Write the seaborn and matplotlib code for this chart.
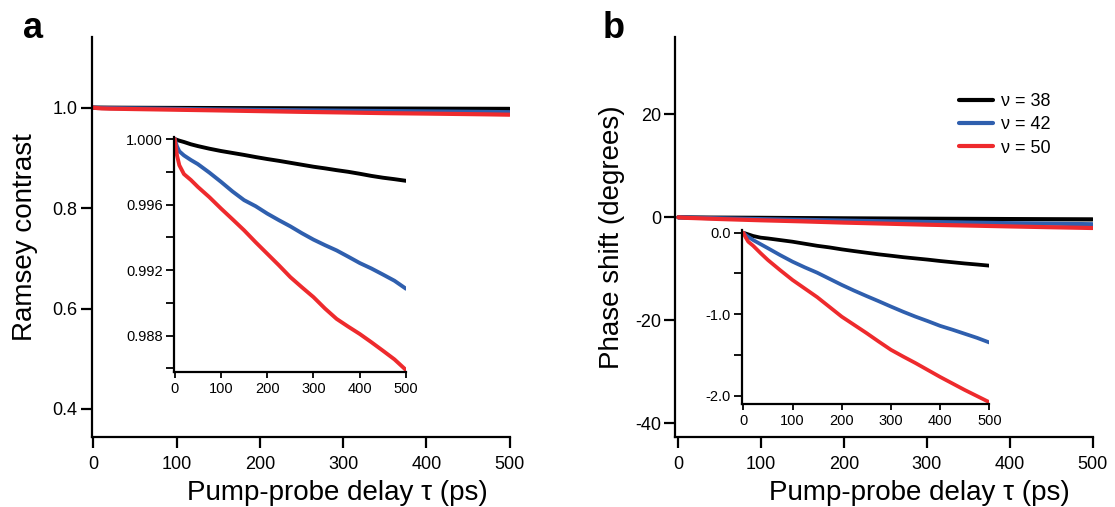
import numpy as np
import pandas as pd
import matplotlib
matplotlib.use("Agg")
import matplotlib.pyplot as plt
from matplotlib.lines import Line2D
import seaborn as sns

# ---------------- data ----------------
delay_ps = [0, 5, 10, 20, 35, 50, 75, 100, 125, 150, 175, 200, 225, 250,
            275, 300, 325, 350, 375, 400, 425, 450, 475, 500]

series_labels = ["ν = 38", "ν = 42", "ν = 50"]

contrast_v38 = [1.00000, 0.99995, 0.99990, 0.99982, 0.99968, 0.99957, 0.99941,
                0.99927, 0.99915, 0.99903, 0.99890, 0.99878, 0.99867, 0.99855,
                0.99843, 0.99831, 0.99821, 0.99810, 0.99800, 0.99788, 0.99775,
                0.99764, 0.99755, 0.99745]
contrast_v42 = [1.00000, 0.99955, 0.99925, 0.99900, 0.99872, 0.99847, 0.99795,
                0.99739, 0.99680, 0.99627, 0.99590, 0.99545, 0.99505, 0.99467,
                0.99425, 0.99386, 0.99352, 0.99320, 0.99282, 0.99243, 0.99210,
                0.99173, 0.99135, 0.99086]
contrast_v50 = [1.00000, 0.99900, 0.99840, 0.99786, 0.99750, 0.99708, 0.99645,
                0.99576, 0.99510, 0.99443, 0.99370, 0.99300, 0.99230, 0.99157,
                0.99095, 0.99035, 0.98965, 0.98902, 0.98855, 0.98810, 0.98760,
                0.98708, 0.98655, 0.98590]

phase_v38 = [0.0, -0.01, -0.02, -0.04, -0.06, -0.07, -0.09, -0.11, -0.135,
             -0.16, -0.18, -0.204, -0.225, -0.245, -0.265, -0.282, -0.30,
             -0.315, -0.33, -0.347, -0.362, -0.377, -0.39, -0.404]
phase_v42 = [0.0, -0.03, -0.05, -0.09, -0.14, -0.19, -0.275, -0.355, -0.425,
             -0.49, -0.565, -0.64, -0.71, -0.776, -0.84, -0.906, -0.97, -1.03,
             -1.085, -1.143, -1.19, -1.24, -1.29, -1.347]
phase_v50 = [0.0, -0.06, -0.11, -0.16, -0.25, -0.335, -0.46, -0.58, -0.685,
             -0.79, -0.91, -1.03, -1.13, -1.23, -1.335, -1.437, -1.52, -1.60,
             -1.685, -1.77, -1.85, -1.93, -2.005, -2.08]

main_x_ticks = [0, 100, 200, 300, 400, 500]
contrast_y_ticks = [0.4, 0.6, 0.8, 1.0]
phase_y_ticks = [-40, -20, 0, 20]
inset_a_major = [0.988, 0.992, 0.996, 1.000]
inset_a_minor = [0.986, 0.990, 0.994, 0.998]
inset_b_major = [-2.0, -1.0, 0.0]
inset_b_minor = [-1.5, -0.5]

colors = ["#000000", "#2f5fae", "#ee2a2d"]
palette = dict(zip(series_labels, colors))

def long_frame(values_list, name):
    frames = []
    for lab, vals in zip(series_labels, values_list):
        frames.append(pd.DataFrame({"delay": delay_ps, name: vals, "series": lab}))
    return pd.concat(frames, ignore_index=True)

df_contrast = long_frame([contrast_v38, contrast_v42, contrast_v50], "contrast")
df_phase = long_frame([phase_v38, phase_v42, phase_v50], "phase")

# ---------------- style ----------------
sns.set_theme(style="ticks")
plt.rcParams["font.family"] = ["Liberation Sans", "DejaVu Sans"]
plt.rcParams["axes.unicode_minus"] = False
for k in ["text.color", "axes.labelcolor", "xtick.color", "ytick.color", "axes.edgecolor"]:
    plt.rcParams[k] = "black"

W, H = 1115, 507
fig = plt.figure(figsize=(W / 100, H / 100), dpi=100)

def px_axes(left, right, top, bottom):
    return fig.add_axes([left / W, 1 - bottom / H, (right - left) / W, (bottom - top) / H])

axA = px_axes(91.5, 509.5, 37.3, 436.7)
axB = px_axes(675.3, 1092.5, 37.3, 436.7)
insA = px_axes(174.0, 406.0, 137.4, 372.3)
insB = px_axes(741.7, 989.3, 230.3, 404.3)

# main panels
sns.lineplot(data=df_contrast, x="delay", y="contrast", hue="series", hue_order=series_labels,
             palette=palette, ax=axA, linewidth=3.0, legend=False)
sns.lineplot(data=df_phase, x="delay", y="phase", hue="series", hue_order=series_labels,
             palette=palette, ax=axB, linewidth=3.0, legend=False)
# insets
sns.lineplot(data=df_contrast, x="delay", y="contrast", hue="series", hue_order=series_labels,
             palette=palette, ax=insA, linewidth=2.8, legend=False)
sns.lineplot(data=df_phase, x="delay", y="phase", hue="series", hue_order=series_labels,
             palette=palette, ax=insB, linewidth=2.7, legend=False)

for ax in [axA, axB, insA, insB]:
    sns.despine(ax=ax)
    ax.set_facecolor("none")
    for s in ["left", "bottom"]:
        ax.spines[s].set_linewidth(1.6)

# main axes settings
axA.set_xlim(-2.2, 500)
axA.set_ylim(0.3448, 1.140)
axA.set_xticks(main_x_ticks)
axA.set_yticks(contrast_y_ticks)
axA.set_yticklabels([f"{v:.1f}" for v in contrast_y_ticks])

axB.set_xlim(-3.6, 500)
axB.set_ylim(-42.6, 34.95)
axB.set_xticks(main_x_ticks)
axB.set_yticks(phase_y_ticks)

for ax in [axA, axB]:
    ax.tick_params(axis="both", direction="out", length=8, width=1.6, labelsize=13)
    ax.tick_params(axis="x", pad=6)
    ax.tick_params(axis="y", pad=2)
    ax.set_xlabel("Pump-probe delay τ (ps)", fontsize=20)

axA.set_ylabel("Ramsey contrast", fontsize=20)
axB.set_ylabel("Phase shift (degrees)", fontsize=20)
axA.xaxis.set_label_coords(0.5885, -0.108)
axB.xaxis.set_label_coords(0.584, -0.108)
axA.yaxis.set_label_coords(-0.128, 0.5)
axB.yaxis.set_label_coords(-0.12, 0.5)

# inset settings
insA.set_xlim(-1.5, 500)
insA.set_ylim(0.98576, 1.0001)
insA.set_yticks(inset_a_major)
insA.set_yticks(inset_a_minor, minor=True)
insA.set_yticklabels([f"{v:.3f}" for v in inset_a_major])

insB.set_xlim(-3.3, 500)
insB.set_ylim(-2.106, 0.03)
insB.set_yticks(inset_b_major)
insB.set_yticks(inset_b_minor, minor=True)
insB.set_yticklabels([f"{v:.1f}" for v in inset_b_major])

for ax in [insA, insB]:
    ax.set_xticks(main_x_ticks)
    ax.set_xlabel("")
    ax.set_ylabel("")
    ax.tick_params(axis="y", which="both", direction="out", length=6, width=1.3, labelsize=10.5, pad=2)
    ax.tick_params(axis="x", direction="out", length=4.5, width=1.3, labelsize=10.5, pad=2.5)

# legend
handles = [Line2D([], [], color=c, linewidth=3.0) for c in colors]
axB.legend(handles, series_labels, loc="upper left", bbox_to_anchor=(959 / W, 1 - 93 / H),
           bbox_transform=fig.transFigure, frameon=False, fontsize=13,
           handlelength=1.9, handletextpad=0.4, labelspacing=0.35,
           borderpad=0, borderaxespad=0)

# panel letters
fig.text(33 / W, 1 - 38 / H, "a", ha="center", va="baseline", fontsize=26, fontweight="bold")
fig.text(614 / W, 1 - 38 / H, "b", ha="center", va="baseline", fontsize=26, fontweight="bold")

fig.savefig("out.png", dpi=100)
